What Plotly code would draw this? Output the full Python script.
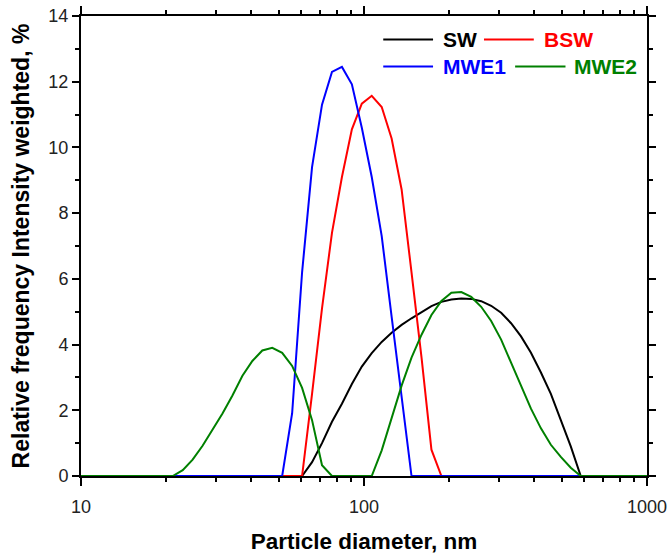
import plotly.graph_objects as go

# Particle diameter bins (nm)
diameter = [10, 21.10, 22.88, 24.80, 26.89, 29.16, 31.62, 34.29, 37.19, 40.32, 43.72, 47.41,
            51.39, 55.73, 60.43, 65.53, 71.06, 77.06, 83.56, 90.61, 98.23, 106.5,
            115.5, 125.2, 135.8, 147.2, 159.7, 173.1, 187.7, 203.6, 220.7, 239.3,
            259.5, 281.4, 305.2, 330.9, 358.8, 389.0, 421.9, 457.4, 496.0, 537.8,
            583.2, 1000]

sw = [0, 0, 0, 0, 0, 0, 0, 0, 0, 0, 0, 0,
      0, 0, 0, 0.42, 1.0, 1.65, 2.2, 2.8, 3.33, 3.74,
      4.08, 4.36, 4.6, 4.8, 4.98, 5.17, 5.3, 5.37, 5.4, 5.39,
      5.32, 5.18, 4.97, 4.65, 4.25, 3.75, 3.15, 2.5, 1.7, 0.9,
      0, 0]

bsw = [0, 0, 0, 0, 0, 0, 0, 0, 0, 0, 0, 0,
       0, 0, 0, 2.5, 5.1, 7.4, 9.1, 10.55, 11.33, 11.57,
       11.23, 10.27, 8.72, 6.2, 3.6, 0.8, 0, 0, 0, 0,
       0, 0, 0, 0, 0, 0, 0, 0, 0, 0,
       0, 0]

mwe1 = [0, 0, 0, 0, 0, 0, 0, 0, 0, 0, 0, 0,
        0, 1.91, 6.2, 9.4, 11.3, 12.3, 12.45, 11.92, 10.6, 9.1,
        7.3, 4.85, 2.4, 0, 0, 0, 0, 0, 0, 0,
        0, 0, 0, 0, 0, 0, 0, 0, 0, 0,
        0, 0]

mwe2 = [0, 0, 0.18, 0.5, 0.92, 1.4, 1.9, 2.45, 3.05, 3.5, 3.82, 3.9,
        3.75, 3.35, 2.68, 1.7, 0.33, 0, 0, 0, 0, 0,
        0.78, 1.75, 2.75, 3.6, 4.3, 4.9, 5.33, 5.58, 5.6, 5.45,
        5.15, 4.72, 4.15, 3.45, 2.75, 2.05, 1.45, 0.95, 0.58, 0.25,
        0, 0]

series_names = ["SW", "BSW", "MWE1", "MWE2"]
series_values = [sw, bsw, mwe1, mwe2]
series_colors = ["#000000", "#ff0000", "#0000ff", "#008000"]

# manual legend layout (paper coords): line x0, line x1, text x, row y
legend_pos = [(0.534, 0.622, 0.636, 0.949),
              (0.712, 0.800, 0.814, 0.949),
              (0.534, 0.622, 0.636, 0.890),
              (0.767, 0.856, 0.868, 0.890)]

FONT = "Liberation Sans, Arial, sans-serif"

fig = go.Figure()
for name, vals, col in zip(series_names, series_values, series_colors):
    fig.add_trace(go.Scatter(x=diameter, y=vals, mode="lines",
                             line=dict(color=col, width=2), name=name))

shapes, annos = [], []
for name, col, (lx0, lx1, tx, ly) in zip(series_names, series_colors, legend_pos):
    shapes.append(dict(type="line", xref="paper", yref="paper", x0=lx0, x1=lx1,
                       y0=ly, y1=ly, line=dict(color=col, width=2)))
    annos.append(dict(xref="paper", yref="paper", x=tx, y=ly, xanchor="left",
                      yanchor="middle", showarrow=False, text=f"<b>{name}</b>",
                      font=dict(family=FONT, size=21, color=col)))

axis_common = dict(showline=True, linecolor="black", linewidth=2, mirror="ticks",
                   ticks="outside", tickcolor="black", tickwidth=1.5,
                   showgrid=False, zeroline=False, layer="below traces",
                   tickfont=dict(family=FONT, size=18, color="#222"))

fig.update_xaxes(type="log", range=[1, 3], tickvals=[10, 100, 1000],
                 ticktext=["10", "100", "1000"], ticklen=8, ticklabelstandoff=5,
                 minor=dict(ticks="outside", ticklen=4, tickwidth=1.5, tickcolor="black",
                            tickvals=[20, 30, 40, 50, 60, 70, 80, 90,
                                      200, 300, 400, 500, 600, 700, 800, 900]),
                 title=dict(text="<b>Particle diameter, nm</b>",
                            font=dict(family=FONT, size=22.5, color="black"), standoff=20),
                 **axis_common)
fig.update_yaxes(range=[0, 14], dtick=2, ticklen=7,
                 minor=dict(ticks="outside", ticklen=4, tickwidth=1.5, tickcolor="black", dtick=1),
                 title=dict(text="<b>Relative frequency Intensity weighted, %</b>",
                            font=dict(family=FONT, size=23, color="black"), standoff=12),
                 **axis_common)

fig.update_layout(
    width=668, height=554,
    margin=dict(l=81, r=21, t=16, b=78, autoexpand=False),
    paper_bgcolor="white", plot_bgcolor="white",
    showlegend=False,
    shapes=shapes, annotations=annos,
)

fig.write_html("out.html")
